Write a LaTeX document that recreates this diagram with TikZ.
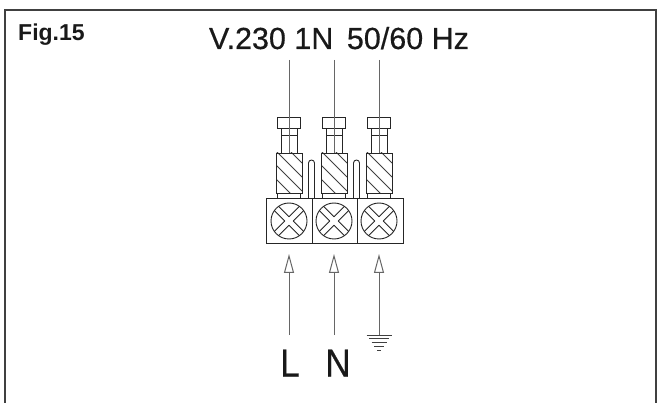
\documentclass[tikz,border=0pt]{standalone}
\usepackage{fontspec}
\setmainfont{Liberation Sans}
\newfontfamily\heavyfont[FakeBold=0.5]{Liberation Sans}
\usepackage{tikz}
\usetikzlibrary{arrows.meta}

\tikzset{
    part/.style={draw=black!85, line width=0.9pt},
    wire/.style={draw=black!60, line width=1pt},
    feed/.style={wire, -{Triangle[open,length=19pt,width=10pt,fill=white]}},
    earthbar/.style={draw=black!75, line width=1pt},
    lbl/.style={inner sep=0pt, text=black!90}
}

\begin{document}
\begin{tikzpicture}[x=1pt,y=-1pt]
    \useasboundingbox (0,0) rectangle (661,403);
    % outer frame, open at the bottom
    \draw[draw=black!75, line width=1.5pt] (5,403) -- (5,10) -- (656,10) -- (656,403);

    \node[lbl, anchor=base west, font=\bfseries\fontsize{23}{23}\selectfont] (figlabel) at (18,41) {Fig.15};
    \node[lbl, anchor=base, font=\heavyfont\fontsize{30.5}{30.5}\selectfont] (supply) at (339,49) {V.230 1N\, 50/60 Hz};

    % three poles of the block
    \foreach \xx/\nn in {289/a,334/b,379/c}{
        \coordinate (top\nn) at (\xx,60);
        \coordinate (end\nn) at (\xx,153);
        \coordinate (tip\nn) at (\xx,254);
        \coordinate (tail\nn) at (\xx,335);

        \begin{scope}
            \clip (\xx-13,153) rectangle (\xx+13,193);
            \foreach \dd in {-44,-30,...,40}{
                \draw[draw=black!75, line width=0.9pt] (\xx-13,153+\dd) -- ++(26,26);
            }
        \end{scope}
        \draw[part] (\xx-13,153) rectangle (\xx+13,193);
        \draw[part] (\xx-11.5,117) rectangle (\xx+11.5,128);
        \draw[part] (\xx-8,128) rectangle (\xx+8,135);
        \draw[part] (\xx-8,135) -- (\xx-8,153) (\xx+8,135) -- (\xx+8,153);
        \draw[part] (\xx-11.5,193) -- (\xx-11.5,198) (\xx+11.5,193) -- (\xx+11.5,198);
        \draw[wire] (top\nn) -- (end\nn);

        % screw head with an open cross
        \node[part, circle, minimum size=36pt, inner sep=0pt] (screw\nn) at (\xx,221) {};
        \foreach \aa in {45,135,225,315}{
            \draw[part, rotate around={\aa:(\xx,221)}] (\xx+17.7,221-3) -- (\xx+3,221-3) (\xx+17.7,221+3) -- (\xx+3,221+3);
        }
        \draw[feed] (tail\nn) -- (tip\nn);
    }

    % slots between the poles
    \foreach \xx in {311.5,356.5}{
        \draw[part] (\xx-3,198) -- (\xx-3,163) arc (180:0:3pt) -- (\xx+3,198);
    }

    % block body
    \draw[part] (266,198) rectangle (403,243);
    \draw[part] (312,198) -- (312,243) (357,198) -- (357,243);

    % earth symbol
    \foreach \yy/\ww in {335/12.5,338.5/10,342.5/7.5,346.5/5,350/2}{
        \draw[earthbar] (379-\ww,\yy) -- (379+\ww,\yy);
    }

    \node[lbl, anchor=base, xscale=0.9, font=\heavyfont\fontsize{39}{39}\selectfont] (phase) at (290,376.5) {L};
    \node[lbl, anchor=base, xscale=0.9, font=\heavyfont\fontsize{39}{39}\selectfont] (neutral) at (338,376.5) {N};
\end{tikzpicture}
\end{document}
